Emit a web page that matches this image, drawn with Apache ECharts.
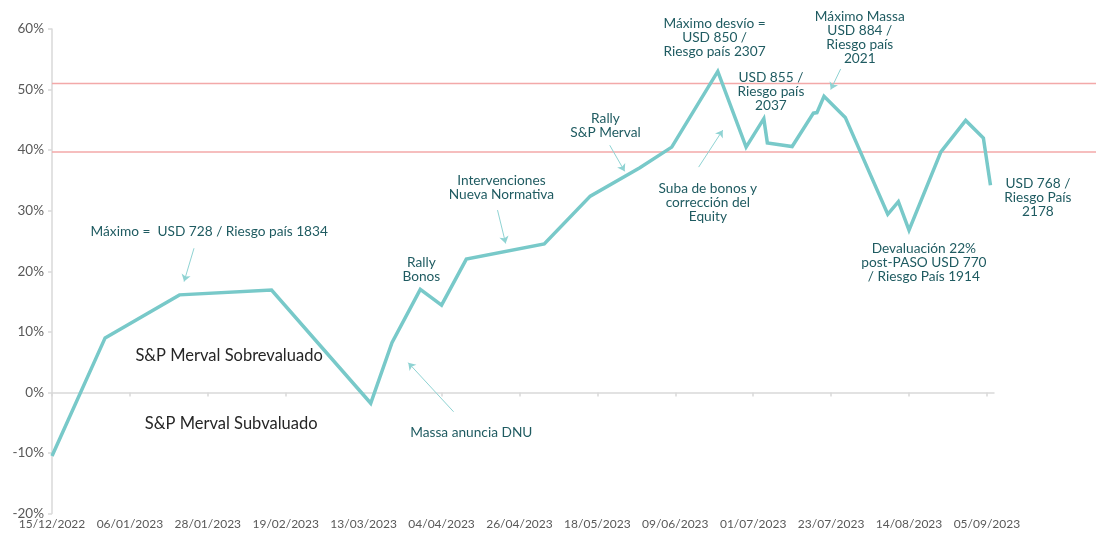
<!DOCTYPE html>
<html><head><meta charset="utf-8">
<script src="https://cdn.jsdelivr.net/npm/echarts@6/dist/echarts.min.js"></script>
<style>html,body{margin:0;padding:0;background:#fff}#c{width:1096px;height:533px}</style>
</head><body><div id="c"></div>
<script>
// ---- data ----
const baseDate = '2022-12-15';
const axisEndDate = '2023-09-07';
const dates = ['2022-12-15','2022-12-30','2023-01-20','2023-02-15','2023-03-15','2023-03-21','2023-03-29','2023-04-04','2023-04-11','2023-05-03','2023-05-16','2023-05-30','2023-06-08','2023-06-21','2023-06-29','2023-07-04','2023-07-05','2023-07-12','2023-07-18','2023-07-19','2023-07-21','2023-07-27','2023-08-08','2023-08-11','2023-08-14','2023-08-23','2023-08-30','2023-09-04','2023-09-06'];
const values = [-10.5, 9.0, 16.1, 16.9, -1.8, 8.2, 17.0, 14.4, 22.0, 24.5, 32.4, 37.1, 40.5, 53.0, 40.5, 45.2, 41.2, 40.6, 46.1, 46.2, 48.9, 45.4, 29.4, 31.5, 26.8, 39.7, 44.9, 42.0, 34.2];
const tickDates = ['2022-12-15','2023-01-06','2023-01-28','2023-02-19','2023-03-13','2023-04-04','2023-04-26','2023-05-18','2023-06-09','2023-07-01','2023-07-23','2023-08-14','2023-09-05'];
const bandLevels = [51.0, 39.7];
const yTicks = {min: -20, max: 60, interval: 10};

// annotations (x in days since baseDate, y in %)
const notes = [
  {text: 'Máximo =  USD 728 / Riesgo país 1834', x: 44.4, y: 26.6},
  {text: 'S&P Merval Sobrevaluado', x: 50.0, y: 6.0, dark: true},
  {text: 'S&P Merval Subvaluado', x: 50.6, y: -5.2, dark: true},
  {text: 'Rally\nBonos', x: 104.3, y: 20.2},
  {text: 'Massa anuncia DNU', x: 118.4, y: -6.7},
  {text: 'Intervenciones\nNueva Normativa', x: 126.9, y: 33.8},
  {text: 'Rally\nS&P Merval', x: 156.3, y: 44.1},
  {text: 'Suba de bonos y\ncorrección del\nEquity', x: 185.2, y: 31.4},
  {text: 'Máximo desvío =\nUSD 850 /\nRiesgo país 2307', x: 187.1, y: 58.6},
  {text: 'USD 855 /\nRiesgo país\n2037', x: 203.0, y: 49.7},
  {text: 'Máximo Massa\nUSD 884 /\nRiesgo país\n2021', x: 228.1, y: 58.5},
  {text: 'USD 768 /\nRiesgo País\n2178', x: 278.4, y: 32.1},
  {text: 'Devaluación 22%\npost-PASO USD 770\n/ Riesgo País 1914', x: 246.2, y: 21.5}
];
const arrows = [
  [[40.1, 23.8], [37.3, 18.3]],
  [[113.4, -3.2], [100.6, 4.9]],
  [[125.8, 30.1], [128.1, 24.6]],
  [[157.5, 40.8], [161.7, 36.5]],
  [[182.6, 37.2], [189.4, 43.3]],
  [[222.7, 53.4], [219.9, 50.0]]
];

// ---- helpers ----
function toUTC(s){const p=s.split('-').map(Number);return Date.UTC(p[0],p[1]-1,p[2]);}
const base = toUTC(baseDate);
function dayOf(s){return Math.round((toUTC(s)-base)/86400000);}
function fmtDay(v){const d=new Date(base+v*86400000);const dd=String(d.getUTCDate()).padStart(2,'0');const mm=String(d.getUTCMonth()+1).padStart(2,'0');return dd+'/'+mm+'/'+d.getUTCFullYear();}
const tickDays = tickDates.map(dayOf);
const xMax = dayOf(axisEndDate);
const FONT = 'Lato';
const lineColor = '#78c9c9';

const chart = echarts.init(document.getElementById('c'), null, {renderer:'canvas'});
const option = {
  animation: false,
  backgroundColor: '#fff',
  textStyle: {fontFamily: FONT},
  grid: {left: 52, right: 102, top: 29, bottom: 19.5, containLabel: false},
  xAxis: [{
    type: 'value', min: 0, max: xMax, position: 'bottom',
    axisLine: {show: false, onZero: false},
    axisTick: {show: false},
    splitLine: {show: false},
    axisLabel: {customValues: tickDays, formatter: fmtDay, color: '#595959', fontSize: 12, margin: 5, fontFamily: FONT}
  }, {
    type: 'value', min: 0, max: xMax, position: 'bottom',
    axisLine: {show: true, onZero: true, lineStyle: {color: '#d9d9d9', width: 1.5}},
    axisTick: {show: true, customValues: tickDays, length: 4, lineStyle: {color: '#d9d9d9', width: 1.5}},
    axisLabel: {show: false},
    splitLine: {show: false}
  }],
  yAxis: {
    type: 'value', min: yTicks.min, max: yTicks.max, interval: yTicks.interval,
    axisLine: {show: true, onZero: false, lineStyle: {color: '#d9d9d9', width: 1.5}},
    axisTick: {show: true, length: 4, lineStyle: {color: '#d9d9d9', width: 1.5}},
    splitLine: {show: false},
    axisLabel: {formatter: '{value}%', color: '#595959', fontSize: 13.5, margin: 8, fontFamily: FONT}
  },
  series: [{
    type: 'line', xAxisIndex: 0, yAxisIndex: 0,
    data: dates.map((d, i) => [dayOf(d), values[i]]),
    symbol: 'none', z: 5,
    lineStyle: {color: lineColor, width: 3.5, join: 'miter'},
    markLine: {
      silent: true, symbol: ['none', 'arrow'], symbolSize: 7,
      label: {show: false},
      lineStyle: {color: '#8fd3d3', width: 1, type: 'solid'},
      emphasis: {disabled: true},
      data: arrows.map(a => [{coord: a[0]}, {coord: a[1]}])
    }
  }]
};
chart.setOption(option);

function buildGraphics(){
  const g = [];
  const x0 = chart.convertToPixel({xAxisIndex: 0}, 0);
  bandLevels.forEach(v => {
    const y = chart.convertToPixel({yAxisIndex: 0}, v);
    g.push({type: 'line', z: 1, silent: true, shape: {x1: x0, y1: y, x2: chart.getWidth(), y2: y}, style: {stroke: '#f3a9a9', lineWidth: 1.5}});
  });
  notes.forEach(n => {
    const p = chart.convertToPixel({xAxisIndex: 0, yAxisIndex: 0}, [n.x, n.y]);
    g.push({type: 'text', z: 10, silent: true, x: p[0], y: p[1], style: {
      text: n.text, align: 'center', verticalAlign: 'middle',
      fill: n.dark ? '#262626' : '#1f5b61', fontSize: n.dark ? 16.5 : 13.7, lineHeight: 14, fontFamily: FONT
    }});
  });
  chart.setOption({graphic: {elements: g}});
}
buildGraphics();
</script></body></html>
